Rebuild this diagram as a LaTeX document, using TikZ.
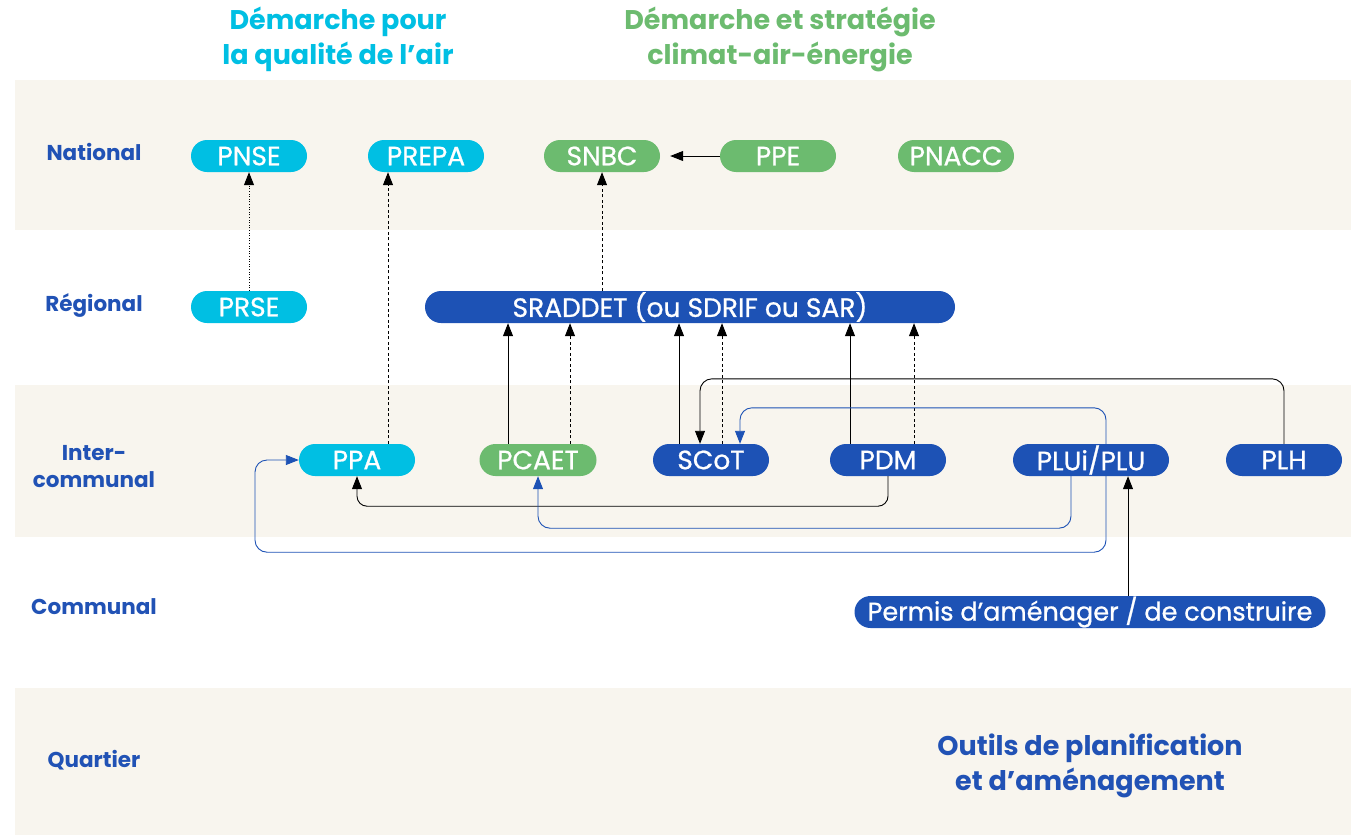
\documentclass[tikz,border=0pt]{standalone}
\usepackage{fontspec}
\setmainfont{Poppins}
\newfontfamily\headf{Poppins}
\newfontfamily\pillf[FakeBold=0.8]{Poppins}
\usetikzlibrary{arrows.meta}
\definecolor{cy}{HTML}{00BFE3}
\definecolor{gr}{HTML}{6CBB6F}
\definecolor{bl}{HTML}{1D52B5}
\definecolor{lb}{HTML}{2152B5}
\definecolor{bg}{HTML}{F8F5EE}
\begin{document}
\begin{tikzpicture}[x=1pt,y=-1pt,
  pill/.style={rounded corners=16pt,minimum height=32pt,inner sep=0pt,text=white,font=\pillf\fontsize{26.5}{28}\selectfont},
  pcy/.style={pill,fill=cy},
  pgr/.style={pill,fill=gr},
  pbl/.style={pill,fill=bl},
  rowlab/.style={text=lb,font=\bfseries\fontsize{21.5}{24}\selectfont,align=center},
  arr/.style={-{Triangle[length=13pt,width=10pt]},line width=0.9pt},
  barr/.style={arr,draw=bl,-{Triangle[length=13pt,width=10pt]}},
  dsh/.style={dash pattern=on 3pt off 2.5pt},
  dtt/.style={dash pattern=on 1pt off 1.6pt}]
\useasboundingbox (0,0) rectangle (1351,835);
\fill[bg] (15,80) rectangle (1351,230);
\fill[bg] (15,385) rectangle (1351,537);
\fill[bg] (15,688) rectangle (1351,835);
% headers
\node[text=cy,font=\headf\bfseries\fontsize{27}{35}\selectfont,align=center] (h1) at (338,39) {Démarche pour\\la qualité de l’air};
\node[text=gr,font=\headf\bfseries\fontsize{27}{35}\selectfont,align=center] (h2) at (780,39) {Démarche et stratégie\\climat-air-énergie};
\node[text=lb,font=\headf\bfseries\fontsize{27}{35}\selectfont,align=center] (h3) at (1090,766) {Outils de planification\\et d’aménagement};
% row labels
\node[rowlab] (rn) at (94,152) {National};
\node[rowlab] (rr) at (94,305) {Régional};
\node[rowlab,font=\bfseries\fontsize{21.5}{27}\selectfont] (ri) at (94,467) {Inter-\\communal};
\node[rowlab] (rc) at (94,607) {Communal};
\node[rowlab] (rq) at (94,760) {Quartier};
% nodes
\node[pcy,minimum width=116pt] (pnse) at (249,156) {PNSE};
\node[pcy,minimum width=116pt] (prepa) at (426,156) {PREPA};
\node[pgr,minimum width=116pt] (snbc) at (602,156) {SNBC};
\node[pgr,minimum width=116pt] (ppe) at (778,156) {PPE};
\node[pgr,minimum width=116pt] (pnacc) at (956,156) {PNACC};
\node[pcy,minimum width=116pt] (prse) at (249,307) {PRSE};
\node[pbl,minimum width=530pt] (sraddet) at (690,307) {SRADDET (ou SDRIF ou SAR)};
\node[pcy,minimum width=116pt] (ppa) at (357,460) {PPA};
\node[pgr,minimum width=117pt] (pcaet) at (538,460) {PCAET};
\node[pbl,minimum width=116pt] (scot) at (711,460) {SCoT};
\node[pbl,minimum width=116pt] (pdm) at (888,460) {PDM};
\node[pbl,minimum width=156pt] (plu) at (1091,460) {PLUi/PLU};
\node[pbl,minimum width=116pt] (plh) at (1284,460) {PLH};
\node[pbl,minimum width=471pt,font=\pillf\fontsize{25.5}{28}\selectfont] (permis) at (1090,612) {Permis d’aménager / de construire};
% vertical arrows up
\draw[arr,dtt] (prse.north) -- (pnse.south);
\draw[arr,dsh] ([xshift=31pt]ppa.north) -- ([xshift=31pt]ppa.north |- prepa.south);
\draw[arr,dsh] (sraddet.north -| snbc.south) -- (snbc.south);
\draw[arr] (ppe.west) -- ([xshift=10pt]snbc.east);
\draw[arr] ([xshift=-30pt]pcaet.north) -- ([xshift=-30pt]pcaet.north |- sraddet.south);
\draw[arr,dsh] ([xshift=32pt]pcaet.north) -- ([xshift=32pt]pcaet.north |- sraddet.south);
\draw[arr] ([xshift=-32pt]scot.north) -- ([xshift=-32pt]scot.north |- sraddet.south);
\draw[arr,dsh] ([xshift=11pt]scot.north) -- ([xshift=11pt]scot.north |- sraddet.south);
\draw[arr] ([xshift=-38pt]pdm.north) -- ([xshift=-38pt]pdm.north |- sraddet.south);
\draw[arr,dsh] ([xshift=26pt]pdm.north) -- ([xshift=26pt]pdm.north |- sraddet.south);
% routed
\draw[arr,rounded corners=12pt] (plh.north) -- ++(0,-65) -| ([xshift=-11pt]scot.north);
\draw[barr,rounded corners=12pt] ([xshift=15pt]plu.north) -- ++(0,-36) -| ([xshift=29pt]scot.north);
\draw[arr,rounded corners=10pt] (pdm.south) -- ++(0,30) -| (ppa.south);
\draw[barr,rounded corners=12pt] ([xshift=-20pt]plu.south) -- ++(0,52) -| (pcaet.south);
\draw[barr,rounded corners=12pt] ([xshift=15pt]plu.south) -- ++(0,76) -| (255,460) -- (ppa.west);
\draw[arr] ([xshift=38pt]permis.north) -- ([xshift=38pt]permis.north |- plu.south);
\end{tikzpicture}
\end{document}
